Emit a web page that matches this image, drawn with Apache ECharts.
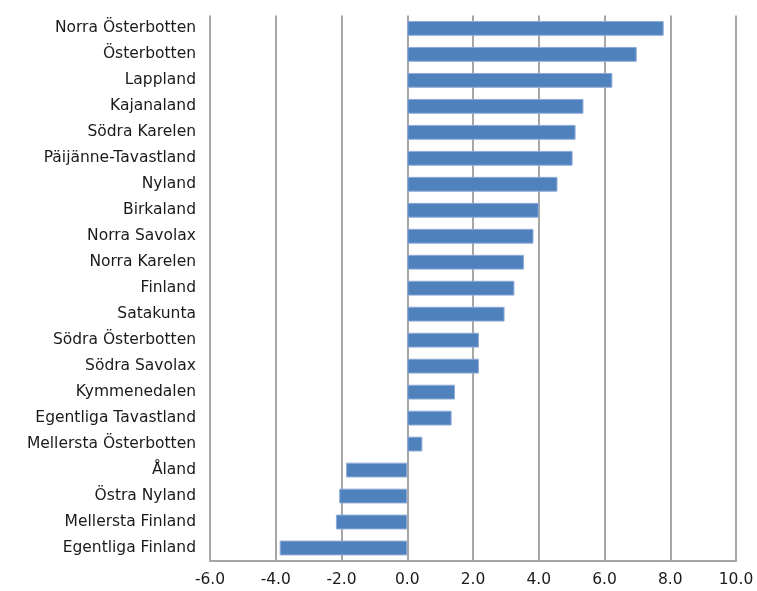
<!DOCTYPE html>
<html>
<head>
<meta charset="utf-8">
<script src="https://cdn.jsdelivr.net/npm/echarts@6/dist/echarts.min.js"></script>
<style>
html,body{margin:0;padding:0;background:#fff;}
#chart{width:757px;height:591px;}
</style>
</head>
<body>
<div id="chart"></div>
<script>
const categories = [
  "Norra Österbotten", "Österbotten", "Lappland", "Kajanaland", "Södra Karelen",
  "Päijänne-Tavastland", "Nyland", "Birkaland", "Norra Savolax", "Norra Karelen",
  "Finland", "Satakunta", "Södra Österbotten", "Södra Savolax", "Kymmenedalen",
  "Egentliga Tavastland", "Mellersta Österbotten", "Åland", "Östra Nyland",
  "Mellersta Finland", "Egentliga Finland"
];
const values = [
  7.80, 6.98, 6.24, 5.36, 5.12,
  5.03, 4.57, 4.00, 3.84, 3.55,
  3.26, 2.96, 2.18, 2.18, 1.45,
  1.35, 0.46, -1.86, -2.07,
  -2.17, -3.88
];
const xTicks = { min: -6, max: 10, interval: 2 };

const chart = echarts.init(document.getElementById('chart'), null, { renderer: 'canvas' });
const font = 'DejaVu Sans';
chart.setOption({
  animation: false,
  backgroundColor: '#ffffff',
  grid: { left: 210, right: 21, top: 15.4, bottom: 30, containLabel: false },
  xAxis: {
    type: 'value',
    min: xTicks.min, max: xTicks.max, interval: xTicks.interval,
    axisLine: { show: true, lineStyle: { color: '#a6a6a6', width: 2 } },
    axisTick: { show: false },
    splitLine: { show: true, lineStyle: { color: '#a6a6a6', width: 2 } },
    axisLabel: {
      margin: 11,
      color: '#1a1a1a', fontFamily: font, fontSize: 15.5,
      formatter: v => v.toFixed(1)
    }
  },
  yAxis: {
    type: 'category',
    data: categories,
    inverse: true,
    axisLine: { show: false },
    axisTick: { show: false },
    splitLine: { show: false },
    axisLabel: {
      margin: 14,
      color: '#1a1a1a', fontFamily: font, fontSize: 15.5
    }
  },
  series: [{
    type: 'bar',
    data: values,
    barCategoryGap: '43%',
    itemStyle: { color: '#4f81bd', borderColor: '#8eaad8', borderWidth: 1 },
    z: 3
  }]
});
</script>
</body>
</html>
